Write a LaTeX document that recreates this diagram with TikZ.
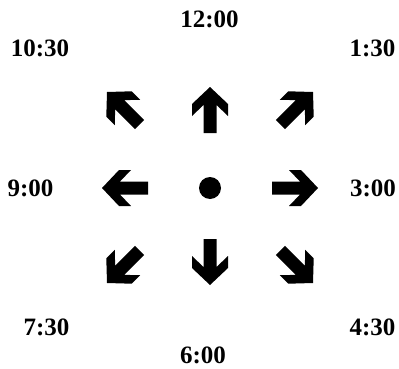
\documentclass[tikz,border=0pt]{standalone}
\usepackage{fontspec}
\setmainfont{Liberation Serif}
\tikzset{
  x=1pt, y=1pt,
  lbl/.style={font=\fontsize{25}{30}\selectfont\bfseries, inner sep=0pt, anchor=center},
  blockarrow/.pic={
    \fill[black] (0,0) -- (-17,18) -- (-29,18) -- (-18,6.5) -- (-46,6.5)
      -- (-46,-6.5) -- (-18,-6.5) -- (-29,-18) -- (-17,-18) -- cycle;
  }
}
\begin{document}
\begin{tikzpicture}
\useasboundingbox (0,0) rectangle (399,368);
% labels
\node[lbl] (t12) at (209.5,348.5) {12:00};
\node[lbl] (t1030) at (40,320) {10:30};
\node[lbl] (t130) at (372.5,320) {1:30};
\node[lbl] (t9) at (30.5,180) {9:00};
\node[lbl] (t3) at (373,180) {3:00};
\node[lbl] (t730) at (46.5,41) {7:30};
\node[lbl] (t430) at (372.5,41) {4:30};
\node[lbl] (t6) at (203,13) {6:00};
% centre dot
\fill[black] (210,180) circle (11);
% straight arrows
\pic[rotate=90] at (210,281) {blockarrow};
\pic[rotate=-90] at (210,83) {blockarrow};
\pic[rotate=180] at (102,180) {blockarrow};
\pic at (318,180) {blockarrow};
% diagonal arrows
\pic[rotate=135] at (107,276) {blockarrow};
\pic[rotate=45] at (313,276) {blockarrow};
\pic[rotate=-135] at (107,85) {blockarrow};
\pic[rotate=-45] at (313,85) {blockarrow};
\end{tikzpicture}
\end{document}
